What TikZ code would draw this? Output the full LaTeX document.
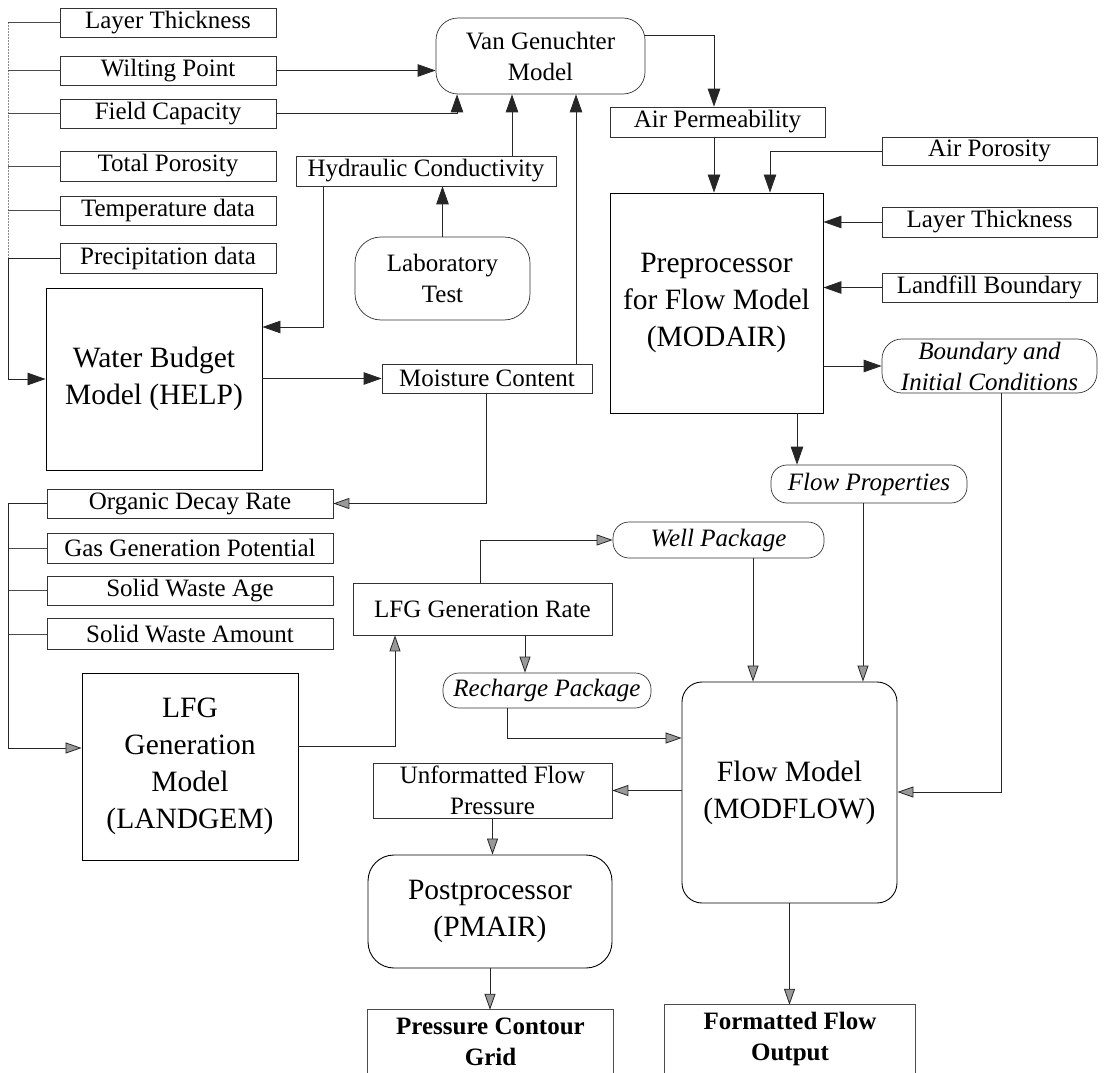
\documentclass[tikz,border=0pt]{standalone}
\usepackage{fontspec}
\setmainfont{Liberation Serif}
\usetikzlibrary{arrows.meta,calc}
\begin{document}
\begin{tikzpicture}[x=1pt,y=-1pt,
  wh/.style 2 args={minimum width=#1pt,minimum height=#2pt},
  sbox/.style={draw=black!80,line width=0.7pt,inner sep=0pt,font=\fontsize{25}{31}\selectfont,align=center},
  rbox/.style={sbox,rounded corners=16pt,font=\fontsize{25}{31}\selectfont\itshape},
  bbox/.style={draw=black,line width=0.9pt,inner sep=0pt,font=\fontsize{29.5}{37}\selectfont,align=center},
  obox/.style={inner sep=0pt,font=\fontsize{25}{31}\selectfont\bfseries,align=center},
  conn/.style={line width=0.8pt,draw=black!85},
  stub/.style={line width=0.7pt,draw=black!70},
  arrB/.style={conn,-{Triangle[length=18pt,width=12.5pt]}},
  arrG/.style={conn,-{Triangle[length=16pt,width=11pt,fill=black!40]}},
]
\fill[white] (0,0) rectangle (1104,1073);
\useasboundingbox (0,0) rectangle (1104,1073);

% left column (soil data)
\node[sbox,wh={216}{29}] (lt) at (168,22.5) {Layer Thickness};
\node[sbox,wh={216}{29}] (wp) at (168,70.5) {Wilting Point};
\node[sbox,wh={216}{29}] (fc) at (168,113.5) {Field Capacity};
\node[sbox,wh={216}{30}] (tp) at (168,166) {Total Porosity};
\node[sbox,wh={216}{29}] (td) at (168,210.5) {Temperature data};
\node[sbox,wh={216}{30}] (pd) at (168,258) {Precipitation data};

\node[bbox,wh={216}{182}] (wb) at (154,379) {Water Budget\\Model (HELP)};
\node[sbox,wh={260}{30}] (hc) at (426,171) {Hydraulic Conductivity};
\node[sbox,rounded corners=26pt,wh={175}{83}] (lab) at (442.5,278.5) {Laboratory\\Test};
\node[sbox,rounded corners=22pt,wh={209}{76}] (vg) at (540.5,56) {Van Genuchter\\Model};
\node[sbox,wh={210}{29}] (mc) at (487,378.5) {Moisture Content};

% waste data
\node[sbox,wh={286}{29}] (odr) at (190,503.5) {Organic Decay Rate};
\node[sbox,wh={286}{30}] (ggp) at (190,548) {Gas Generation Potential};
\node[sbox,wh={286}{29}] (swg) at (190,590.5) {Solid Waste Age};
\node[sbox,wh={286}{31}] (swm) at (190,634) {Solid Waste Amount};
\node[bbox,wh={216}{187}] (lfgm) at (190,766.5) {LFG\\Generation\\Model\\(LANDGEM)};
\node[sbox,wh={259}{52}] (lgr) at (482.5,609) {LFG Generation Rate};
\node[rbox,wh={211}{36}] (wpk) at (718.5,540) {Well Package};
\node[rbox,wh={208}{35}] (rp) at (547,690.5) {Recharge Package};

% right part
\node[sbox,wh={215}{30}] (ap) at (717.5,122) {Air Permeability};
\node[bbox,wh={213}{220}] (pre) at (716.5,303) {Preprocessor\\for Flow Model\\(MODAIR)};
\node[sbox,wh={215}{28}] (apo) at (989.5,151) {Air Porosity};
\node[sbox,wh={215}{30}] (lt2) at (989.5,222) {Layer Thickness};
\node[sbox,wh={215}{29}] (lb) at (989.5,287.5) {Landfill Boundary};
\node[rbox,rounded corners=20pt,wh={215}{54}] (bic) at (989.5,366) {Boundary and\\Initial Conditions};
\node[rbox,wh={196}{38}] (fp) at (869,484) {Flow Properties};
\node[bbox,rounded corners=20pt,wh={215}{221}] (fm) at (789.5,792.5) {Flow Model\\(MODFLOW)};
\node[sbox,wh={239}{55}] (uf) at (492.5,790.5) {Unformatted Flow\\Pressure};
\node[bbox,rounded corners=26pt,wh={244}{113}] (post) at (490,911.5) {Postprocessor\\(PMAIR)};
\node[obox,wh={245}{63}] (pcg) at (490.5,1041.5) {Pressure Contour\\Grid};
\node[obox,wh={250}{68}] (ffo) at (790,1039) {Formatted Flow\\Output};
\draw[stub] (pcg.south west) -- (pcg.north west) -- (pcg.north east) -- (pcg.south east);
\draw[stub] (ffo.south west) -- (ffo.north west) -- (ffo.north east) -- (ffo.south east);

% ---- connectors, upper part
\coordinate (t1) at (8,22.5);
\draw[stub,draw=black!45,dash pattern=on 2pt off 1pt] (lt.west -| t1) -- (pd.west -| t1);
\foreach \n in {lt,wp,fc,tp,td} \draw[stub] (\n.west) -- (\n.west -| t1);
\draw[arrB] (pd.west) -- (pd.west -| t1) -- (t1 |- wb.west) -- (wb.west);

\draw[arrB] (wp.east) -- (wp.east -| vg.west);
\coordinate (fcj) at (457,113.5);
\draw[arrB] (fc.east) -- (fcj) -- (fcj |- vg.south);
\coordinate (hvx) at (512,171);
\draw[arrB] (hc.north -| hvx) -- (hvx |- vg.south);
\draw[arrB] (lab.north) -- (lab.north |- hc.south);
\coordinate (hcj) at (323,327);
\draw[arrB] (hc.south -| hcj) -- (hcj) -- (hcj -| wb.east);
\coordinate (mvx) at (576,378);
\draw[arrB] (mc.north -| mvx) -- (mvx |- vg.south);
\draw[arrB] (wb.east |- mc.west) -- (mc.west);

\coordinate (vaj) at (714,35);
\draw[arrB] (vaj -| vg.east) -- (vaj) -- (vaj |- ap.north);
\draw[arrB] (ap.south -| vaj) -- (vaj |- pre.north);
\coordinate (aoj) at (770,151);
\draw[arrB] (apo.west) -- (aoj) -- (aoj |- pre.north);
\draw[arrB] (lt2.west) -- (lt2.west -| pre.east);
\draw[arrB] (lb.west) -- (lb.west -| pre.east);
\draw[arrB] (bic.west -| pre.east) -- (bic.west);
\coordinate (pfx) at (797,420);
\draw[arrB] (pre.south -| pfx) -- (pfx |- fp.north);

% ---- connectors, lower part
\coordinate (moj) at (486,503.5);
\draw[arrG] (mc.south -| moj) -- (moj) -- (moj -| odr.east);
\coordinate (t3) at (8,748);
\foreach \n in {ggp,swg,swm} \draw[stub] (\n.west) -- (\n.west -| t3);
\draw[arrG] (odr.west) -- (odr.west -| t3) -- (t3) -- (t3 -| lfgm.west);
\coordinate (lrj) at (395,746);
\draw[arrG] (lrj -| lfgm.east) -- (lrj) -- (lrj |- lgr.south);
\coordinate (lwj) at (480,540);
\draw[arrG] (lgr.north -| lwj) -- (lwj) -- (lwj -| wpk.west);
\coordinate (rpx) at (525,650);
\draw[arrG] (lgr.south -| rpx) -- (rpx |- rp.north);
\coordinate (rfj) at (507,738);
\draw[arrG] (rp.south -| rfj) -- (rfj) -- (rfj -| fm.west);
\coordinate (wfx) at (753,600);
\draw[arrG] (wpk.south -| wfx) -- (wfx |- fm.north);
\coordinate (ffx) at (863,600);
\draw[arrG] (fp.south -| ffx) -- (ffx |- fm.north);
\coordinate (bfj) at (1001,792);
\draw[arrG] (bic.south -| bfj) -- (bfj) -- (bfj -| fm.east);
\draw[arrG] (uf.east -| fm.west) -- (uf.east);
\draw[arrG] (uf.south) -- (uf.south |- post.north);
\draw[arrG] (post.south) -- (post.south |- pcg.north);
\draw[arrG] (fm.south) -- (fm.south |- ffo.north);
\end{tikzpicture}
\end{document}
